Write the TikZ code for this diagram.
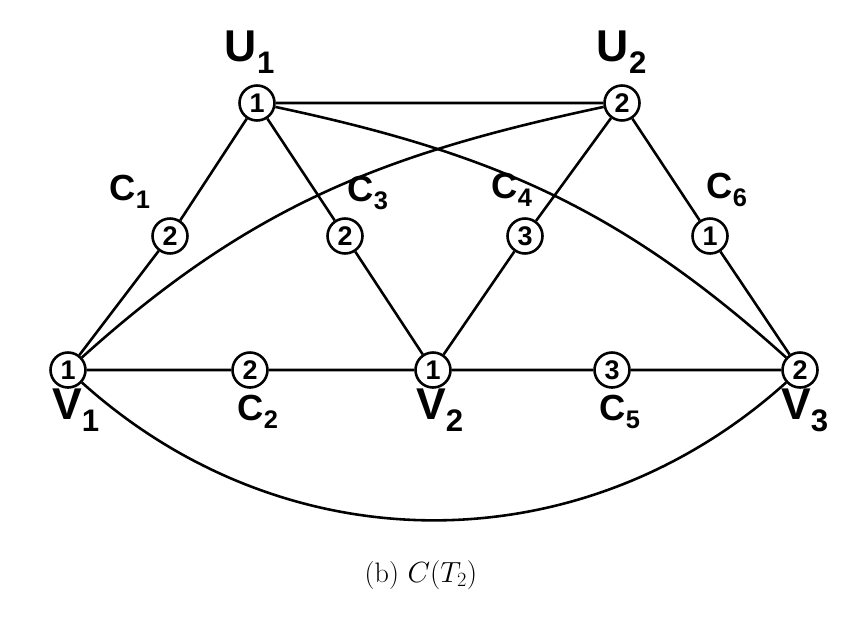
\documentclass[tikz,border=0pt]{standalone}
\usepackage{fontspec}
\setmainfont{Liberation Sans}
\begin{document}
\begin{tikzpicture}[x=0.03cm,y=-0.03cm,
  v/.style={circle,draw,line width=2.2pt,minimum size=1.05cm,inner sep=0pt,font=\bfseries\fontsize{23}{23}\selectfont},
  lb/.style={font=\bfseries\fontsize{38}{38}\selectfont,inner sep=0pt},
  lc/.style={font=\bfseries\fontsize{31}{31}\selectfont},
  e/.style={line width=2.2pt}]
\useasboundingbox (0,0) rectangle (841,616);
\node[v] (U1) at (257,103) {1};
\node[v] (U2) at (622,103) {2};
\node[v] (C1) at (170,236) {2};
\node[v] (C3) at (345,236) {2};
\node[v] (C4) at (525,236) {3};
\node[v] (C6) at (710,236) {1};
\node[v] (V1) at (68,370) {1};
\node[v] (C2) at (250,370) {2};
\node[v] (V2) at (433,370) {1};
\node[v] (C5) at (612,370) {3};
\node[v] (V3) at (800,370) {2};
\node[lb] (lU1) at (250,52) {U$_{\mathbf 1}$};
\node[lb] (lU2) at (622,52) {U$_{\mathbf 2}$};
\node[lb,anchor=north] (lV1) at (76,389) {V$_{\mathbf 1}$};
\node[lb,anchor=north] (lV2) at (440,389) {V$_{\mathbf 2}$};
\node[lb,anchor=north] (lV3) at (805,389) {V$_{\mathbf 3}$};
\node[lc] (lC1) at (130,192) {C$_{\mathbf 1}$};
\node[lc] (lC3) at (368,193) {C$_{\mathbf 3}$};
\node[lc] (lC4) at (512,190) {C$_{\mathbf 4}$};
\node[lc] (lC6) at (727,190) {C$_{\mathbf 6}$};
\node[lc] (lC2) at (258,412) {C$_{\mathbf 2}$};
\node[lc] (lC5) at (620,412) {C$_{\mathbf 5}$};
\node (cap) at (421,575) {\fontspec{Latin Modern Roman}\fontsize{24}{24}\selectfont (b) $C(T_2)$};
\draw[e] (U1)--(U2) (U1)--(C1)--(V1) (U1)--(C3)--(V2) (U2)--(C4)--(V2) (U2)--(C6)--(V3)
  (V1)--(C2)--(V2)--(C5)--(V3);
\draw[e] (U2) to[out=192,in=42] (V1);
\draw[e] (U1) to[out=-12,in=138] (V3);
\draw[e] (V1) to[out=-42,in=-138] (V3);
\end{tikzpicture}
\end{document}
